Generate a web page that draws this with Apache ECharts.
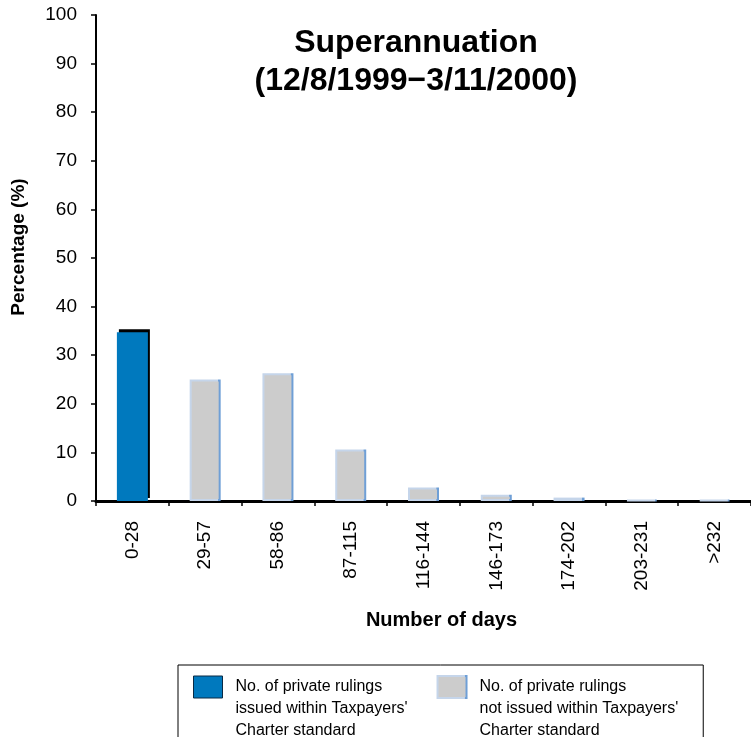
<!DOCTYPE html>
<html>
<head>
<meta charset="utf-8">
<script src="https://cdn.jsdelivr.net/npm/echarts@6/dist/echarts.min.js"></script>
<style>html,body{margin:0;padding:0;background:#fff;}#c{width:751px;height:737px;}</style>
</head>
<body>
<div id="c"></div>
<script>
const categories = ['0-28','29-57','58-86','87-115','116-144','146-173','174-202','203-231','>232'];
const withinStandard = [34.7, null, null, null, null, null, null, null, null];
const notWithinStandard = [null, 25.0, 26.3, 10.6, 2.8, 1.3, 0.7, 0.25, 0.25];
const yTicks = [0, 100, 10];
const titleText = 'Superannuation\n(12/8/1999\u22123/11/2000)';
const seriesNames = ["No. of private rulings\nissued within Taxpayers'\nCharter standard", "No. of private rulings\nnot issued within Taxpayers'\nCharter standard"];

const FONT = 'Liberation Sans, Arial, sans-serif';
const chart = echarts.init(document.getElementById('c'), null, {renderer: 'canvas'});
const iconPath = 'path://M0,0L29,0L29,22L0,22Z M0,66';
const grayBorder = new echarts.graphic.LinearGradient(0, 0, 1, 0, [
  {offset: 0, color: '#c5d5ea'}, {offset: 0.9, color: '#c5d5ea'},
  {offset: 0.93, color: '#6f9fd6'}, {offset: 1, color: '#6f9fd6'}
]);
chart.setOption({
  animation: false,
  backgroundColor: '#fff',
  title: {
    text: titleText,
    left: 416, top: 24, padding: 0,
    textAlign: 'center',
    textStyle: {fontFamily: FONT, fontSize: 32, fontWeight: 'bold', color: '#000', lineHeight: 38}
  },
  grid: {left: 96, right: -10, top: 15, bottom: 236, containLabel: false},
  legend: {
    left: 178, top: 665, orient: 'horizontal',
    padding: [10, 25, 10, 15],
    borderColor: '#000', borderWidth: 1,
    itemGap: 29, itemWidth: 29, itemHeight: 66,
    selectedMode: false,
    textStyle: {fontFamily: FONT, fontSize: 16, color: '#000', lineHeight: 22, padding: [0, 0, 0, 8]},
    data: [
      {name: seriesNames[0], icon: iconPath, itemStyle: {color: '#0079be', borderColor: '#0a2a44', borderWidth: 1}},
      {name: seriesNames[1], icon: iconPath, itemStyle: {color: '#cccccc', borderColor: grayBorder, borderWidth: 2}}
    ]
  },
  xAxis: {
    type: 'category',
    data: categories,
    name: 'Number of days',
    nameLocation: 'middle',
    nameGap: 109,
    nameTextStyle: {fontFamily: FONT, fontSize: 20, fontWeight: 'bold', color: '#000', padding: [0, 0, 0, 36]},
    axisLine: {lineStyle: {color: '#000', width: 3}},
    axisTick: {show: true, length: 5, lineStyle: {color: '#000', width: 1.5}},
    axisLabel: {rotate: 90, margin: 20, fontFamily: FONT, fontSize: 19, color: '#000', interval: 0},
    splitLine: {show: false}
  },
  yAxis: {
    type: 'value',
    min: yTicks[0], max: yTicks[1], interval: yTicks[2],
    name: 'Percentage (%)',
    nameLocation: 'middle',
    nameGap: 68,
    nameTextStyle: {fontFamily: FONT, fontSize: 19, fontWeight: 'bold', color: '#000', padding: [0, 0, 0, 22]},
    axisLine: {show: true, lineStyle: {color: '#000', width: 2}},
    axisTick: {show: true, length: 5, lineStyle: {color: '#000', width: 1.5}},
    axisLabel: {margin: 19, fontFamily: FONT, fontSize: 19, color: '#000'},
    splitLine: {show: false}
  },
  series: [
    {
      name: seriesNames[0], type: 'bar', stack: 'all', data: withinStandard, barWidth: 31,
      itemStyle: {color: '#0079be', shadowColor: '#000', shadowBlur: 0, shadowOffsetX: 2, shadowOffsetY: -3}
    },
    {
      name: seriesNames[1], type: 'bar', stack: 'all', data: notWithinStandard, barWidth: 31,
      itemStyle: {color: '#cccccc', borderColor: grayBorder, borderWidth: 2}
    }
  ]
});
</script>
</body>
</html>
